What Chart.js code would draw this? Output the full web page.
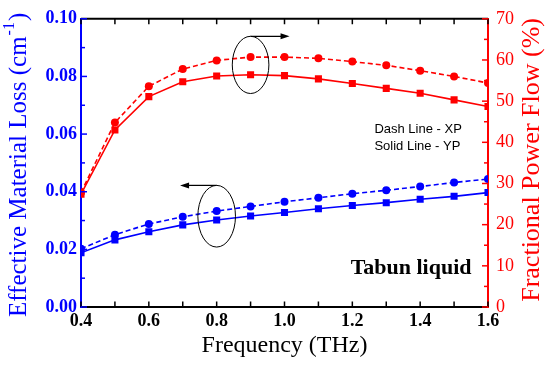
<!DOCTYPE html>
<html>
<head>
<meta charset="utf-8">
<script src="https://cdn.jsdelivr.net/npm/chart.js@4.4.0/dist/chart.umd.min.js"></script>
<style>
  html, body { margin: 0; padding: 0; background: #fff; }
  #wrap { width: 550px; height: 366px; }
</style>
</head>
<body>
<div id="wrap"><canvas id="chart" width="550" height="366"></canvas></div>
<script>
// frequency (THz)
const freq = [0.4, 0.5, 0.6, 0.7, 0.8, 0.9, 1.0, 1.1, 1.2, 1.3, 1.4, 1.5, 1.6];
// effective material loss (cm^-1)
const lossXP = [0.0202, 0.0251, 0.0288, 0.0313, 0.0333, 0.0349, 0.0365, 0.0379, 0.0393, 0.0405, 0.0418, 0.0432, 0.0444];
const lossYP = [0.0188, 0.0233, 0.0261, 0.0285, 0.0302, 0.0316, 0.0328, 0.0341, 0.0352, 0.0362, 0.0374, 0.0384, 0.0397];
// fractional power flow (%)
const powerXP = [27.8, 44.8, 53.6, 57.8, 59.9, 60.7, 60.7, 60.4, 59.6, 58.7, 57.4, 56.0, 54.4];
const powerYP = [27.4, 43.0, 51.1, 54.7, 56.1, 56.4, 56.2, 55.4, 54.3, 53.1, 51.9, 50.3, 48.7];

const BLUE = '#0000ff';
const RED = '#ff0000';
const SERIF = "'Times New Roman', 'Liberation Serif', serif";
const SANS = "Arial, 'Liberation Sans', sans-serif";

function pts(vals) {
  return freq.map((f, i) => ({ x: f, y: vals[i] }));
}

function series(label, vals, axis, color, dashed) {
  return {
    label: label,
    data: pts(vals),
    yAxisID: axis,
    borderColor: color,
    backgroundColor: color,
    borderWidth: 1.6,
    borderDash: dashed ? [5, 3] : [],
    pointStyle: dashed ? 'circle' : 'rect',
    pointRadius: dashed ? 4 : 5,
    pointBorderWidth: 0,
    tension: 0
  };
}

// frame ticks, annotation ellipses/arrows, texts and the y titles
const decor = {
  id: 'decor',
  afterDraw(chart) {
    const ctx = chart.ctx;
    const a = chart.chartArea;
    const sx = chart.scales.x, sy = chart.scales.y, sr = chart.scales.y2;
    ctx.save();

    // top frame line
    ctx.strokeStyle = '#000';
    ctx.lineWidth = 2;
    ctx.beginPath();
    ctx.moveTo(a.left, a.top);
    ctx.lineTo(a.right, a.top);
    ctx.stroke();

    // x ticks (bottom and top), pointing in
    ctx.lineWidth = 1.5;
    for (let i = 4; i <= 16; i++) {
      const px = sx.getPixelForValue(i / 10);
      ctx.beginPath();
      ctx.moveTo(px, a.bottom); ctx.lineTo(px, a.bottom - 5.5);
      ctx.moveTo(px, a.top); ctx.lineTo(px, a.top + 5.5);
      ctx.stroke();
    }
    // left ticks
    ctx.strokeStyle = BLUE;
    for (let i = 0; i <= 10; i++) {
      const py = sy.getPixelForValue(i / 100);
      const len = i % 2 === 0 ? 6 : 4;
      ctx.beginPath();
      ctx.moveTo(a.left, py); ctx.lineTo(a.left + len, py);
      ctx.stroke();
    }
    // right ticks
    ctx.strokeStyle = RED;
    for (let i = 0; i <= 14; i++) {
      const py = sr.getPixelForValue(i * 5);
      const len = i % 2 === 0 ? 6 : 4;
      ctx.beginPath();
      ctx.moveTo(a.right, py); ctx.lineTo(a.right - len, py);
      ctx.stroke();
    }

    // ellipses with arrows
    function marker(cx, cy, rx, ry, toX) {
      ctx.strokeStyle = '#000';
      ctx.fillStyle = '#000';
      ctx.lineWidth = 1;
      ctx.beginPath();
      ctx.ellipse(cx, cy, rx, ry, 0, 0, Math.PI * 2);
      ctx.stroke();
      const top = cy - ry;
      const dir = toX > cx ? 1 : -1;
      ctx.lineWidth = 1.2;
      ctx.beginPath();
      ctx.moveTo(cx, top);
      ctx.lineTo(toX - dir * 6, top);
      ctx.stroke();
      ctx.beginPath();
      ctx.moveTo(toX, top);
      ctx.lineTo(toX - dir * 9, top - 3);
      ctx.lineTo(toX - dir * 9, top + 3);
      ctx.closePath();
      ctx.fill();
    }
    const rx = sx.getPixelForValue(0.454) - sx.getPixelForValue(0.4);
    marker(sx.getPixelForValue(0.9), sr.getPixelForValue(58.8), rx,
      sr.getPixelForValue(0) - sr.getPixelForValue(6.95), sx.getPixelForValue(1.015));
    marker(sx.getPixelForValue(0.8), sy.getPixelForValue(0.0315), rx + 0.5,
      sy.getPixelForValue(0) - sy.getPixelForValue(0.0107), sx.getPixelForValue(0.692));

    // legend notes
    ctx.fillStyle = '#000';
    ctx.font = '13px ' + SANS;
    ctx.textAlign = 'left';
    ctx.textBaseline = 'middle';
    const nx = sx.getPixelForValue(1.265);
    ctx.fillText('Dash Line - XP', nx, sr.getPixelForValue(43.2));
    ctx.fillText('Solid Line - YP', nx, sr.getPixelForValue(39.0));

    ctx.font = 'bold 22px ' + SERIF;
    ctx.fillText('Tabun liquid', sx.getPixelForValue(1.195), sy.getPixelForValue(0.0133));

    // left title, with superscript
    ctx.save();
    ctx.translate(19, (a.top + a.bottom) / 2 + 2);
    ctx.rotate(-Math.PI / 2);
    ctx.fillStyle = BLUE;
    const big = '25px ' + SERIF, small = '16px ' + SERIF;
    ctx.font = big;
    const p1 = 'Effective Material Loss (cm', p3 = ')';
    const w1 = ctx.measureText(p1).width, w3 = ctx.measureText(p3).width;
    ctx.font = small;
    const p2 = '-1';
    const w2 = ctx.measureText(p2).width + 2;
    let start = -(w1 + w2 + w3) / 2;
    ctx.font = big;
    ctx.fillText(p1, start, 0);
    ctx.font = small;
    ctx.fillText(p2, start + w1 + 1, -9);
    ctx.font = big;
    ctx.fillText(p3, start + w1 + w2, 0);
    ctx.restore();

    // right title
    ctx.save();
    ctx.translate(532, (a.top + a.bottom) / 2 - 3);
    ctx.rotate(-Math.PI / 2);
    ctx.fillStyle = RED;
    ctx.font = '26px ' + SERIF;
    ctx.textAlign = 'center';
    ctx.fillText('Fractional Power Flow (%)', 0, 0);
    ctx.restore();

    ctx.restore();
  }
};

new Chart(document.getElementById('chart'), {
  type: 'line',
  data: {
    datasets: [
      series('Loss XP', lossXP, 'y', BLUE, true),
      series('Loss YP', lossYP, 'y', BLUE, false),
      series('Power XP', powerXP, 'y2', RED, true),
      series('Power YP', powerYP, 'y2', RED, false)
    ]
  },
  options: {
    responsive: false,
    animation: false,
    layout: { padding: { top: 15, right: 0, bottom: 0, left: 0 } },
    plugins: { legend: { display: false }, tooltip: { enabled: false } },
    scales: {
      x: {
        type: 'linear',
        min: 0.4,
        max: 1.6,
        grid: { display: false, drawTicks: false },
        border: { display: true, color: '#000', width: 2 },
        ticks: {
          stepSize: 0.2,
          padding: 4,
          color: '#000',
          font: { family: SERIF, size: 18, weight: 'bold' },
          callback: v => v.toFixed(1)
        },
        title: {
          display: true,
          text: 'Frequency (THz)',
          color: '#000',
          font: { family: SERIF, size: 24 },
          padding: { top: 0, bottom: 6 }
        },
        afterFit: s => { s.height = 59; }
      },
      y: {
        position: 'left',
        min: 0,
        max: 0.1,
        grid: { display: false, drawTicks: false },
        border: { display: true, color: BLUE, width: 2 },
        ticks: {
          stepSize: 0.02,
          padding: 4,
          color: BLUE,
          font: { family: SERIF, size: 18, weight: 'bold' },
          callback: v => v.toFixed(2)
        },
        afterFit: s => { s.width = 81; }
      },
      y2: {
        position: 'right',
        min: 0,
        max: 70,
        grid: { display: false, drawTicks: false },
        border: { display: true, color: RED, width: 2 },
        ticks: {
          stepSize: 10,
          padding: 8,
          color: RED,
          font: { family: SERIF, size: 18 }
        },
        afterFit: s => { s.width = 62; }
      }
    }
  },
  plugins: [decor]
});
</script>
</body>
</html>
